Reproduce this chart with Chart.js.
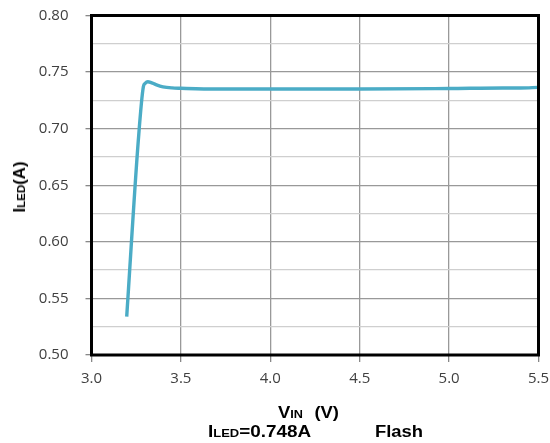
<!DOCTYPE html>
<html>
<head>
<meta charset="utf-8">
<script src="https://cdn.jsdelivr.net/npm/chart.js@4/dist/chart.umd.min.js"></script>
<style>
  html, body { margin:0; padding:0; background:#fff; }
  #wrap { position:relative; width:550px; height:443px; }
  #c { position:absolute; left:0; top:0; }
  .t { position:absolute; font-family:"Liberation Sans", Arial, sans-serif; font-weight:bold; color:#000; white-space:nowrap; font-size:16px; transform-origin:0 0; }
  .s { font-size:11px; }
</style>
</head>
<body>
<div id="wrap">
  <canvas id="c" width="550" height="443"></canvas>
  <div class="t" style="left:278px; top:404px; transform:scaleX(1.15);">V<span class="s">IN</span><span style="margin-left:10px">(V)</span></div>
  <div class="t" style="left:208px; top:423px; transform:scaleX(1.18);">I<span class="s">LED</span>=0.748A</div>
  <div class="t" style="left:375px; top:423px; transform:scaleX(1.15);">Flash</div>
  <div class="t" style="left:20px; top:187px; transform-origin:50% 50%; transform:translate(-50%,-50%) rotate(-90deg) scaleX(1.05);">I<span class="s">LED</span>(A)</div>
</div>
<script>
const vin  = [3.197, 3.262, 3.290, 3.300, 3.315, 3.330, 3.360, 3.400, 3.450, 3.500, 3.700, 4.000, 4.500, 5.000, 5.300, 5.400, 5.500];
const iled = [0.534, 0.690, 0.737, 0.740, 0.7415, 0.741, 0.739, 0.737, 0.736, 0.7357, 0.735, 0.735, 0.735, 0.7355, 0.736, 0.736, 0.7365];
const xTicks = [3.0, 3.5, 4.0, 4.5, 5.0, 5.5];
const yMajor = [0.50, 0.55, 0.60, 0.65, 0.70, 0.75, 0.80];

const isMajorY = v => yMajor.some(m => Math.abs(m - v) < 1e-6);

const framePlugin = {
  id: 'frame',
  afterDatasetsDraw(chart) {
    const a = chart.chartArea, ctx = chart.ctx;
    ctx.save();
    ctx.strokeStyle = '#000';
    ctx.lineWidth = 3;
    ctx.strokeRect(a.left, a.top, a.right - a.left, a.bottom - a.top);
    ctx.restore();
  }
};

const zeroPad = s => { s.paddingTop = 0; s.paddingBottom = 0; s.paddingLeft = 0; s.paddingRight = 0; };

new Chart(document.getElementById('c'), {
  type: 'line',
  data: {
    datasets: [{
      data: vin.map((v, i) => ({ x: v, y: iled[i] })),
      borderColor: '#4bacc6',
      borderWidth: 3.4,
      pointRadius: 0,
      fill: false,
      cubicInterpolationMode: 'monotone'
    }]
  },
  options: {
    responsive: false,
    animation: false,
    layout: { padding: { left: 0, right: 11.5, top: 15.5, bottom: 0 } },
    plugins: { legend: { display: false }, tooltip: { enabled: false } },
    scales: {
      x: {
        type: 'linear', min: 3.0, max: 5.5,
        afterBuildTicks: s => { s.ticks = xTicks.map(v => ({ value: v })); },
        afterFit: s => { s.height = 88; zeroPad(s); },
        border: { display: false },
        grid: { color: '#999', lineWidth: 1.3, tickLength: 7, tickColor: '#888' },
        ticks: { padding: 8, color: '#404040', font: { family: '"Open Sans", sans-serif', size: 15 },
                 callback: v => v.toFixed(1) }
      },
      y: {
        type: 'linear', min: 0.50, max: 0.80,
        afterBuildTicks: s => { const t = []; for (let i = 0; i <= 12; i++) t.push({ value: +(0.5 + i * 0.025).toFixed(3) }); s.ticks = t; },
        afterFit: s => { s.width = 91.5; zeroPad(s); },
        border: { display: false },
        grid: {
          color: c => isMajorY(c.tick.value) ? '#999' : '#cfcfcf',
          lineWidth: 1.3, tickLength: 6,
          tickColor: c => isMajorY(c.tick.value) ? '#888' : 'rgba(0,0,0,0)'
        },
        ticks: { padding: 17, color: '#404040', font: { family: '"Open Sans", sans-serif', size: 15 },
                 callback: v => isMajorY(v) ? v.toFixed(2) : '' }
      }
    }
  },
  plugins: [framePlugin]
});
</script>
</body>
</html>
